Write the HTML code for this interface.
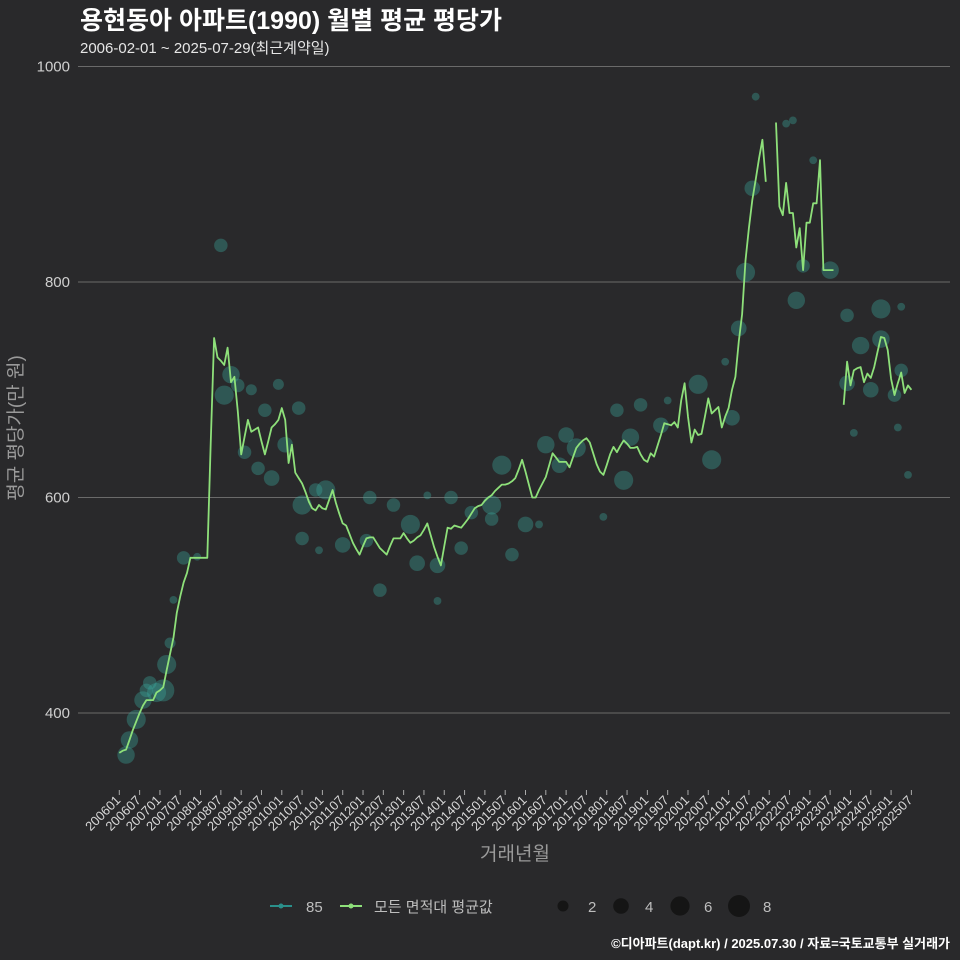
<!DOCTYPE html>
<html><head><meta charset="utf-8"><style>
html,body{margin:0;padding:0;background:#29292b;}
svg{display:block;font-family:"Liberation Sans","Noto Sans CJK KR",sans-serif;}
</style></head><body>
<svg id="chart" width="960" height="960" viewBox="0 0 960 960">
<rect width="960" height="960" fill="#29292b"/>
<text x="80" y="29" fill="#ffffff" font-size="25" font-weight="bold">용현동아 아파트(1990) 월별 평균 평당가</text>
<text x="80" y="53" fill="#e6e6e6" font-size="15">2006-02-01 ~ 2025-07-29(최근계약일)</text>
<g id="grid"></g>
<g id="bubbles"></g>
<g id="lines"></g>
<g id="xaxis"></g>
<text x="515" y="860" fill="#9a9a9a" font-size="19" text-anchor="middle">거래년월</text>
<text transform="translate(22,428) rotate(-90)" fill="#9a9a9a" font-size="19" text-anchor="middle">평균 평당가(만 원)</text>
<g>
<g>
<line x1="270" y1="906" x2="292" y2="906" stroke="#2a8f8a" stroke-width="2"/><circle cx="281" cy="906" r="2.5" fill="#2a8f8a"/>
<text x="306" y="912" fill="#bdbdbd" font-size="15">85</text></g>
<g>
<line x1="340" y1="906" x2="362" y2="906" stroke="#8ee07a" stroke-width="2"/><circle cx="351" cy="906" r="2.5" fill="#8ee07a"/>
<text x="374" y="912" fill="#bdbdbd" font-size="15">모든 면적대 평균값</text></g>
<g>
<circle cx="563" cy="906" r="5.5" fill="#151515"/><text x="588" y="912" fill="#bdbdbd" font-size="15">2</text>
<circle cx="621" cy="906" r="7.8" fill="#151515"/><text x="645" y="912" fill="#bdbdbd" font-size="15">4</text>
<circle cx="680" cy="906" r="9.6" fill="#151515"/><text x="704" y="912" fill="#bdbdbd" font-size="15">6</text>
<circle cx="739" cy="906" r="11" fill="#151515"/><text x="763" y="912" fill="#bdbdbd" font-size="15">8</text>
</g></g>
<text x="950" y="948" fill="#ffffff" font-size="13" font-weight="bold" text-anchor="end">©디아파트(dapt.kr) / 2025.07.30 / 자료=국토교통부 실거래가</text>
</svg>
<script>
const yTicks=[400,600,800,1000];
const xTickLabels=[];
for(let y=2006;y<=2025;y++){xTickLabels.push(y+"01");xTickLabels.push(y+"07");}
const avgValues=[363,365,366,375,384,392,400,407,412,412,412,419,421,424,440,455,470,493,508,521,530,544,544,544,544,544,544,650,748,730,727,723,739,707,712,680,640,656,672,661,663,665,652,640,652,665,668,672,683,672,632,649,623,618,613,605,596,590,588,593,590,589,598,607,595,585,576,574,566,558,552,547,555,562,563,563,558,553,550,547,555,562,562,562,567,562,558,560,563,565,570,576,565,554,545,537,555,572,571,574,573,572,576,580,585,590,592,593,597,600,602,606,609,612,612,613,615,618,626,635,624,612,600,600,607,613,619,630,641,637,633,633,633,628,637,646,650,653,655,651,641,631,624,621,630,640,647,642,648,653,650,646,646,647,640,635,633,641,638,648,658,669,668,667,670,665,690,706,675,651,663,658,659,675,692,678,681,684,665,675,683,700,712,745,770,820,850,876,895,915,932,893,null,null,948,870,862,892,864,864,832,850,811,855,855,873,873,913,811,811,811,811,null,null,686,726,704,718,720,721,707,715,711,721,735,749,748,737,710,695,706,716,697,704,700];
const bubbleMonths=[2,3,5,7,8,9,11,13,14,15,16,19,23,30,31,33,35,39,37,41,43,45,47,53,49,54,58,61,54,59,66,73,74,77,81,86,88,91,94,94,98,101,104,110,110,113,116,120,124,126,130,132,135,143,147,149,151,154,160,162,171,175,179,181,183,185,187,188,197,199,200,202,205,210,215,215,217,219,222,225,225,229,233,231,230,231];
const bubbleValues=[361,375,394,412,421,428,419,421,445,465,505,544,545,834,695,714,704,700,642,627,681,618,705,683,649,593,607,607,562,551,556,560,600,514,593,575,539,602,537,504,600,553,586,580,593,630,547,575,575,649,630,658,646,582,681,616,656,686,667,690,705,635,726,674,757,809,887,972,947,950,783,815,913,811,769,706,660,741,700,747,775,695,621,777,665,718];
const bubbleCounts=[5,5,6,5,3,3,6,8,6,2,1,3,1,3,6,5,3,2,3,3,3,4,2,3,4,6,3,6,3,1,4,3,3,3,3,6,4,1,4,1,3,3,3,3,6,6,3,4,1,5,4,4,6,1,3,6,5,3,4,1,6,6,1,4,4,6,4,1,1,1,5,3,1,5,3,4,1,5,4,5,6,3,1,1,1,3];
const NS="http://www.w3.org/2000/svg";
function xs(i){return 119.3+i*3.385;}
function ys(v){return 713-(v-400)*1.0775;}
function mk(tag,attrs,parent){const e=document.createElementNS(NS,tag);for(const k in attrs)e.setAttribute(k,attrs[k]);parent.appendChild(e);return e;}
const grid=document.getElementById('grid');
yTicks.forEach(t=>{
  const l=mk('line',{x1:78,x2:950,y1:ys(t),y2:ys(t),stroke:'#6a6a6a','stroke-width':1},grid);
  
  
  const tx=mk('text',{x:70,y:ys(t)+5,fill:'#cfcfcf','font-size':15,'text-anchor':'end'},grid);
  tx.textContent=t;
  
  
});
const xa=document.getElementById('xaxis');
xTickLabels.forEach((lab,k)=>{
  const x=xs(k*6);
  const tk=mk('line',{x1:x,x2:x,y1:790,y2:795,stroke:'#aaaaaa'},xa);
  
  
  const t=mk('text',{transform:`translate(${x+2},${801}) rotate(-45)`,fill:'#d8d8d8','font-size':13,'text-anchor':'end'},xa);
  t.textContent=lab;
  
  
});
const bg=document.getElementById('bubbles');
bubbleMonths.forEach((m,k)=>{
  const c=mk('circle',{cx:xs(m),cy:ys(bubbleValues[k]),r:3.9*Math.sqrt(bubbleCounts[k]),fill:'#3aa89e','fill-opacity':0.36},bg);
  
  
});
const lg=document.getElementById('lines');
let d='',pen=false;
avgValues.forEach((v,i)=>{
  if(v===null){pen=false;return;}
  d+=(pen?'L':'M')+xs(i).toFixed(1)+','+ys(v).toFixed(1);pen=true;
});
const p=mk('path',{d:d,fill:'none',stroke:'#8ee07a','stroke-width':1.8,'stroke-linejoin':'round'},lg);


</script>
</body></html>
